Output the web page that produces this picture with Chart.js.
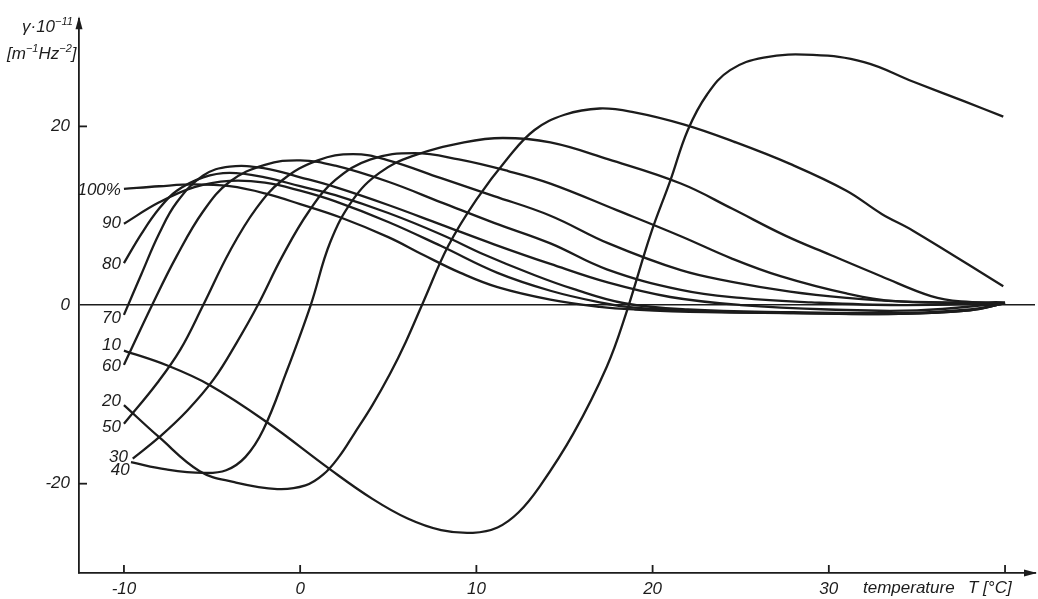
<!DOCTYPE html>
<html>
<head>
<meta charset="utf-8">
<script src="https://cdn.jsdelivr.net/npm/chart.js@4"></script>
<style>
  html, body { margin: 0; padding: 0; background: #fff; }
</style>
</head>
<body>
<canvas id="chart" width="1038" height="599"></canvas>
<script>
// Tick values on both axes
const xTicks = [-10, 0, 10, 20, 30];
const xTickMarks = [-10, 0, 10, 20, 30, 40];
const yTicks = [-20, 0, 20];

// Relative humidity labels, same order as the series below
const humidityLabels = ['100%', '90', '80', '70', '60', '50', '40', '30', '20', '10'];

// Curves: [temperature T (°C), gamma x 1e-11]
const rh100 = [[-10,13],[-8,13.3],[-6,13.5],[-4,13.3],[-2,12.5],[0,11.3],[2.3,9.8],[5,7.6],[7,5.6],[9.1,3.6],[11.2,2],[14.2,0.6],[17,-0.2],[19,-0.5],[23,-0.8],[28,-0.9],[34,-1],[38,-0.6],[40,0.2]];
const rh90 = [[-10,9.1],[-8,11.5],[-6,13.2],[-4,13.9],[-2,13.7],[0,12.8],[2,11.6],[5,9.3],[8,6.6],[11.2,3.6],[14.2,1.6],[17,0.3],[19,-0.3],[23,-0.7],[28,-0.9],[34,-1],[38,-0.6],[40,0.2]];
const rh80 = [[-10,4.7],[-9,8],[-8,10.8],[-7,12.8],[-5.5,14.3],[-4,14.8],[-2,14.3],[0,13.3],[2,12.3],[5,10.3],[8,7.9],[10.5,5.6],[13.1,3.5],[15.5,1.8],[18.4,0.2],[22,-0.5],[28,-0.8],[34,-0.9],[38,-0.5],[40,0.2]];
const rh70 = [[-10,-1.1],[-9,3.5],[-8,8],[-7,11.5],[-5.5,14.5],[-4,15.5],[-2,15.3],[0,14.3],[2,13.2],[5,11.2],[8,9],[11,6.8],[14.2,4.6],[17.5,2.5],[21,0.9],[25,0],[30,-0.5],[35,-0.6],[40,0.2]];
const rh60 = [[-10,-6.7],[-8.4,0],[-7,5.5],[-5.5,10.5],[-4,13.8],[-2,15.7],[0,16.2],[2,15.6],[5,13.8],[8,11.5],[11,9.2],[14.2,6.9],[17.4,4],[21.6,1.7],[25,0.8],[29,0.3],[34,0],[40,0.2]];
const rh50 = [[-10,-13.3],[-8.1,-8.7],[-6.8,-5],[-5.5,0],[-4,6],[-2.5,10.8],[-1,14],[1,16.2],[3,16.9],[5,16.2],[8,14.2],[11,12.2],[14.2,10],[17.5,6.9],[21.6,3.9],[24.5,2.6],[27.8,1.5],[31,0.8],[34,0.4],[40,0.2]];
const rh40 = [[-9.5,-17.2],[-8,-14.8],[-6.4,-11.8],[-4.9,-8.3],[-3.6,-4.2],[-2.4,0],[-1,5.5],[0.5,10.5],[2,14],[4,16.3],[6.5,17],[9,16.3],[11.8,15],[14.2,13.6],[18,10.6],[21.6,7.7],[24.5,5.2],[27.3,3.2],[31,1.3],[34,0.4],[40,0.2]];
const rh30 = [[-9.6,-17.6],[-7.6,-18.4],[-5.5,-18.8],[-4.2,-18.5],[-3.1,-17],[-2.1,-14],[-0.8,-7.6],[0.6,0],[1.7,7],[3,11.8],[4.5,14.8],[6.4,16.7],[9.3,18.2],[11.5,18.7],[14.2,18.2],[17.5,16.3],[21.6,13.6],[24.5,10.8],[27.5,7.8],[30.1,5.6],[33,3.2],[35.8,1],[37.5,0.4],[40,0.3]];
const rh20 = [[-10,-11.2],[-8,-14.8],[-5.7,-18.6],[-3.8,-19.8],[-1.3,-20.6],[0.3,-20.2],[1.3,-19],[2.2,-17],[3.1,-14.3],[4.1,-11.2],[5.1,-7.7],[6,-4.1],[7,0.4],[8.4,6.6],[10,11.8],[11.8,16.5],[13.3,19.6],[15,21.3],[17,22],[18.9,21.6],[21.8,20.2],[24.6,18.3],[27.8,15.8],[31,12.8],[33,10.2],[34.8,8.3],[39.9,2.1]];
const rh10 = [[-10,-5.1],[-7.5,-6.8],[-5.1,-9],[-1.9,-13.1],[1.7,-18.4],[4.1,-21.7],[6.1,-23.9],[8,-25.2],[9.8,-25.5],[11.2,-24.9],[12.4,-23.2],[13.6,-20.3],[15.5,-14.4],[17.4,-6.9],[18.5,-0.9],[19.9,8],[21,13.9],[22,19.6],[23.1,23.6],[24.4,26.3],[26.3,27.7],[29.1,28],[32,27.2],[34.8,25],[37.7,22.8],[39.9,21.1]];

const allCurves = [rh100, rh90, rh80, rh70, rh60, rh50, rh40, rh30, rh20, rh10];

const ink = '#1c1c1c';
const labelFont = 'italic 17px "Liberation Sans", Arial, sans-serif';

// small vertical nudges so the labels sit where they are in the print
const labelNudge = { '100%': 1, '90': 0, '80': 1, '70': 3, '60': 1, '50': 3, '40': 12, '30': -5, '20': -4, '10': -5 };

function drawRich(ctx, parts, x, y) {
  // parts: [text, isSuperscript]
  let cx = x;
  parts.forEach(p => {
    ctx.font = p[1] ? 'italic 11px "Liberation Sans", Arial, sans-serif' : labelFont;
    ctx.fillText(p[0], cx, p[1] ? y - 7 : y);
    cx += ctx.measureText(p[0]).width;
  });
}

const decor = {
  id: 'decor',
  afterDraw(chart) {
    const ctx = chart.ctx;
    const xs = chart.scales.x, ys = chart.scales.y;
    const area = chart.chartArea;
    ctx.save();
    ctx.fillStyle = ink;
    ctx.strokeStyle = ink;
    ctx.lineWidth = 1.8;

    // inward tick marks
    xTickMarks.forEach(v => {
      const px = xs.getPixelForValue(v);
      ctx.beginPath();
      ctx.moveTo(px, area.bottom);
      ctx.lineTo(px, area.bottom - 8);
      ctx.stroke();
    });
    [-20, 20].forEach(v => {
      const py = ys.getPixelForValue(v);
      ctx.beginPath();
      ctx.moveTo(area.left, py);
      ctx.lineTo(area.left + 8, py);
      ctx.stroke();
    });

    // arrow heads
    ctx.beginPath();
    ctx.moveTo(area.left, area.top - 3);
    ctx.lineTo(area.left - 3.5, area.top + 10);
    ctx.lineTo(area.left + 3.5, area.top + 10);
    ctx.closePath();
    ctx.fill();
    ctx.beginPath();
    ctx.moveTo(area.right + 2, area.bottom);
    ctx.lineTo(area.right - 11, area.bottom - 3.5);
    ctx.lineTo(area.right - 11, area.bottom + 3.5);
    ctx.closePath();
    ctx.fill();

    // humidity labels at the start of every curve
    ctx.font = labelFont;
    ctx.textAlign = 'right';
    ctx.textBaseline = 'middle';
    allCurves.forEach((c, i) => {
      const name = humidityLabels[i];
      const px = xs.getPixelForValue(c[0][0]) - 3;
      const py = ys.getPixelForValue(c[0][1]) + labelNudge[name];
      ctx.fillText(name, px, py);
    });

    // axis titles
    ctx.textAlign = 'left';
    ctx.textBaseline = 'alphabetic';
    drawRich(ctx, [['γ·10', false], ['−11', true]], 22, 32);
    drawRich(ctx, [['[m', false], ['−1', true], ['Hz', false], ['−2', true], [']', false]], 7, 59);
    ctx.font = labelFont;
    ctx.fillText('temperature', 863, 593);
    ctx.fillText('T [°C]', 968, 593);
    ctx.restore();
  }
};

new Chart(document.getElementById('chart'), {
  type: 'scatter',
  data: {
    datasets: allCurves.map((c, i) => ({
      label: humidityLabels[i],
      data: c.map(p => ({ x: p[0], y: p[1] })),
      showLine: true,
      borderColor: ink,
      borderWidth: 2.3,
      pointRadius: 0,
      tension: 0.4,
      fill: false
    }))
  },
  options: {
    responsive: false,
    animation: false,
    layout: { padding: { top: 15, right: 3, left: 0, bottom: 0 } },
    plugins: { legend: { display: false }, tooltip: { enabled: false } },
    scales: {
      x: {
        type: 'linear',
        min: -12.55,
        max: 41.7,
        afterFit: s => { s.height = 26; },
        afterBuildTicks: s => { s.ticks = xTicks.map(v => ({ value: v })); },
        grid: { display: false, drawTicks: false },
        border: { display: true, color: ink, width: 1.8 },
        ticks: {
          color: ink,
          padding: 6,
          maxRotation: 0,
          font: { family: '"Liberation Sans", Arial, sans-serif', size: 17, style: 'italic' },
          callback: v => String(v)
        }
      },
      y: {
        min: -30,
        max: 32,
        afterFit: s => { s.width = 79; },
        afterBuildTicks: s => { s.ticks = yTicks.map(v => ({ value: v })); },
        grid: {
          drawTicks: false,
          color: c => (c.tick && c.tick.value === 0 ? ink : 'rgba(0,0,0,0)'),
          lineWidth: 1.6
        },
        border: { display: true, color: ink, width: 1.8 },
        ticks: {
          color: ink,
          padding: 9,
          font: { family: '"Liberation Sans", Arial, sans-serif', size: 17, style: 'italic' },
          callback: v => String(v)
        }
      }
    }
  },
  plugins: [decor]
});
</script>
</body>
</html>
